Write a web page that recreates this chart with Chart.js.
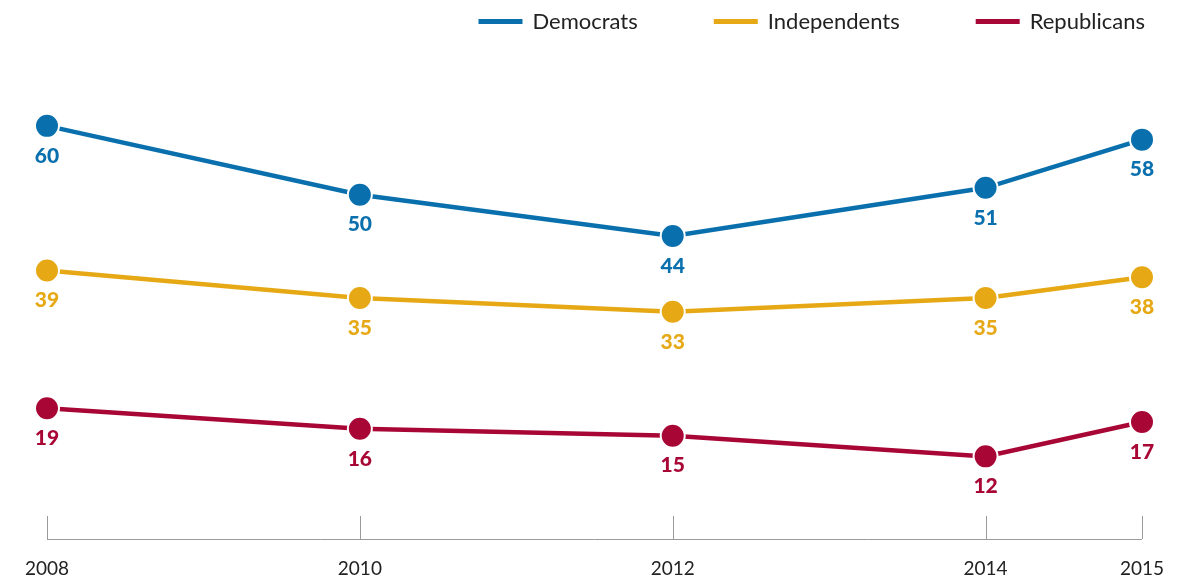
<!DOCTYPE html>
<html lang="en">
  <head>
    <meta charset="UTF-8" />
    <script src="https://cdn.jsdelivr.net/npm/chart.js@4.4.0/dist/chart.umd.min.js"></script>
    <title>Party trend</title>
    <style>
      body {
        margin: 0;
        padding: 0;
        background: white;
      }

      .container {
        width: 1179px;
        height: 577px;
      }
    </style>
  </head>
  <body>
    <div class="container">
      <canvas id="chart"></canvas>
    </div>
    <script>
      const years = [2008, 2010, 2012, 2014, 2015]
      const democrats = [60, 50, 44, 51, 58]
      const independents = [39, 35, 33, 35, 38]
      const republicans = [19, 16, 15, 12, 17]
      const tickYears = [2008, 2010, 2012, 2014, 2015]

      const colors = {
        dem: '#0a70ad',
        ind: '#e6a915',
        rep: '#a80736',
      }

      const toPoints = (values) => values.map((v, i) => ({ x: years[i], y: v }))

      const makeSet = (label, values, color) => ({
        label,
        data: toPoints(values),
        borderColor: color,
        backgroundColor: color,
        borderWidth: 4.5,
        pointRadius: 12,
        pointHoverRadius: 12,
        pointBorderWidth: 2,
        pointBorderColor: '#ffffff',
        pointBackgroundColor: color,
        clip: false,
      })

      // baseline with upward ticks
      const axisLine = {
        id: 'axisLine',
        beforeDatasetsDraw(chart) {
          const { ctx, chartArea } = chart
          const x = chart.scales.x
          ctx.save()
          ctx.strokeStyle = '#9b9b9b'
          ctx.lineWidth = 1
          ctx.beginPath()
          ctx.moveTo(x.getPixelForValue(tickYears[0]), chartArea.bottom + 0.5)
          ctx.lineTo(x.getPixelForValue(tickYears[tickYears.length - 1]), chartArea.bottom + 0.5)
          tickYears.forEach((t) => {
            const px = Math.round(x.getPixelForValue(t)) + 0.5
            ctx.moveTo(px, chartArea.bottom)
            ctx.lineTo(px, chartArea.bottom - 23)
          })
          ctx.stroke()
          ctx.restore()
        },
      }

      // value labels under each point
      const valueLabels = {
        id: 'valueLabels',
        afterDatasetsDraw(chart) {
          const { ctx } = chart
          ctx.save()
          ctx.font = '900 21px Lato'
          ctx.textAlign = 'center'
          ctx.textBaseline = 'middle'
          chart.data.datasets.forEach((ds, i) => {
            ctx.fillStyle = ds.borderColor
            chart.getDatasetMeta(i).data.forEach((pt, j) => {
              ctx.fillText(String(ds.data[j].y), pt.x, pt.y + 30)
            })
          })
          ctx.restore()
        },
      }

      // legend drawn top right
      const topLegend = {
        id: 'topLegend',
        afterDraw(chart) {
          const { ctx } = chart
          ctx.save()
          ctx.font = '22px Lato'
          ctx.textBaseline = 'middle'
          ctx.textAlign = 'left'
          const boxW = 44
          const gap = 10
          const spacing = 76
          const sets = chart.data.datasets
          let x = 1145
          const items = sets.map((ds) => ({ ds, w: ctx.measureText(ds.label).width }))
          for (let i = items.length - 1; i >= 0; i--) {
            x -= items[i].w + gap + boxW
            items[i].x = x
            x -= spacing
          }
          items.forEach((it) => {
            ctx.fillStyle = it.ds.borderColor
            ctx.fillRect(it.x, 19, boxW, 5)
            ctx.fillStyle = '#222222'
            ctx.fillText(it.ds.label, it.x + boxW + gap, 22)
          })
          ctx.restore()
        },
      }

      const chart = new Chart(document.getElementById('chart'), {
        type: 'line',
        data: {
          datasets: [
            makeSet('Democrats', democrats, colors.dem),
            makeSet('Independents', independents, colors.ind),
            makeSet('Republicans', republicans, colors.rep),
          ],
        },
        options: {
          responsive: true,
          maintainAspectRatio: false,
          animation: false,
          layout: {
            padding: { top: 57, left: 47, right: 37, bottom: 0 },
          },
          plugins: {
            legend: { display: false },
            tooltip: { enabled: false },
          },
          scales: {
            x: {
              type: 'linear',
              min: 2008,
              max: 2015,
              afterBuildTicks: (axis) => {
                axis.ticks = tickYears.map((v) => ({ value: v }))
              },
              afterFit: (axis) => {
                axis.height = 38
                axis.paddingLeft = 0
                axis.paddingRight = 0
              },
              grid: { display: false, drawTicks: false },
              border: { display: false },
              ticks: {
                padding: 18,
                color: '#222222',
                font: { family: 'Lato', size: 19 },
                maxRotation: 0,
                autoSkip: false,
                callback: (v) => String(v),
              },
            },
            y: {
              display: false,
              min: 0,
              max: 70,
            },
          },
        },
        plugins: [axisLine, valueLabels, topLegend],
      })
    </script>
  </body>
</html>
